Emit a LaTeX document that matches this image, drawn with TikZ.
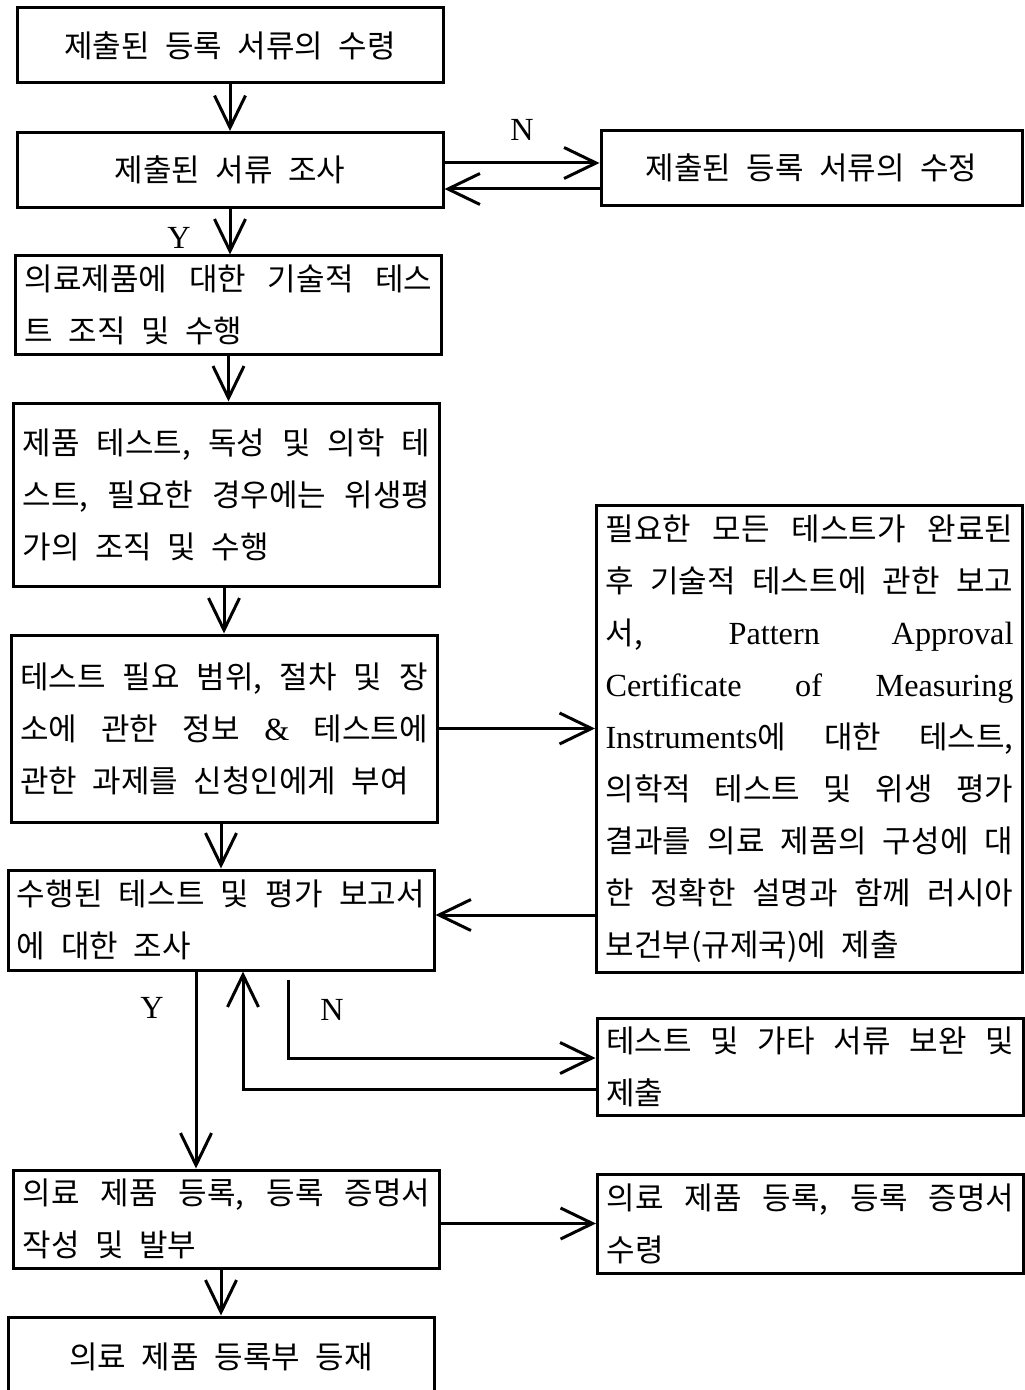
\documentclass[tikz,border=0pt]{standalone}
\usepackage{fontspec}
\setmainfont{Noto Sans CJK KR}
\newfontfamily\engfont[Scale=1.04]{Liberation Serif}
\usepackage{tikz}
\usetikzlibrary{arrows.meta}
\newcommand\bodyfont{\fontsize{15.5pt}{26pt}\selectfont\spaceskip=.5em plus 4em minus .1em\relax}
\tolerance=10000
\hbadness=10000
\tikzset{
  box/.style={draw, line width=1.5pt, inner sep=0pt, font=\bodyfont},
  cbox/.style={box, minimum width=213pt, minimum height=37.5pt, align=center},
  jbox/.style={box, text width=204pt, inner xsep=4.5pt, align=justify},
  arr/.style={-{Straight Barb[length=16pt,width=15.5pt]}, line width=1.5pt},
  yn/.style={font=\engfont\fontsize{15.5pt}{16pt}\selectfont, inner sep=0pt}
}
\begin{document}
\begin{tikzpicture}[x=0.5pt,y=-0.5pt]
\useasboundingbox (0,0) rectangle (1024,1390);
\node[cbox] (recv) at (230,45.5) {제출된 등록 서류의 수령};
\node[cbox] (check) at (230,170) {제출된 서류 조사};
\node[cbox, minimum width=210.5pt] (fix) at (811.5,168) {제출된 등록 서류의 수정};
\node[jbox, minimum height=49pt] (techtest) at (228.5,305) {의료제품에 대한 기술적 테스\linebreak 트 조직 및 수행};
\node[jbox, minimum height=91.5pt] (prodtest) at (226.5,494.5) {제품 테스트, 독성 및 의학 테\linebreak 스트, 필요한 경우에는 위생평\linebreak 가의 조직 및 수행};
\node[jbox, minimum height=93.5pt] (scope) at (224,728.5) {테스트 필요 범위, 절차 및 장\linebreak 소에 관한 정보 {\engfont\&} 테스트에\linebreak 관한 과제를 신청인에게 부여};
\node[jbox, minimum height=233.5pt] (report) at (809.5,738.5) {필요한 모든 테스트가 완료된\linebreak 후 기술적 테스트에 관한 보고\linebreak 서, {\engfont Pattern Approval}\linebreak {\engfont Certificate of Measuring}\linebreak {\engfont Instruments}에 대한 테스트,\linebreak 의학적 테스트 및 위생 평가\linebreak 결과를 의료 제품의 구성에 대\linebreak 한 정확한 설명과 함께 러시아\linebreak 보건부(규제국)에 제출};
\node[jbox, minimum height=50pt] (review) at (221,920) {수행된 테스트 및 평가 보고서\linebreak 에 대한 조사};
\node[jbox, minimum height=48.5pt] (suppl) at (810,1066.5) {테스트 및 가타 서류 보완 및\linebreak 제출};
\node[jbox, minimum height=49pt] (regist) at (226.5,1219) {의료 제품 등록, 등록 증명서\linebreak 작성 및 발부};
\node[jbox, minimum height=49.5pt] (receive) at (810.5,1223.5) {의료 제품 등록, 등록 증명서\linebreak 수령};
\node[cbox, minimum height=40pt] (entry) at (221,1357) {의료 제품 등록부 등재};
\node[yn] (nlab1) at (522,130) {N};
\node[yn] (ylab1) at (179,238) {Y};
\node[yn] (ylab2) at (152,1008) {Y};
\node[yn] (nlab2) at (332,1010) {N};
\coordinate (nstart) at ([xshift=33.5pt,yshift=-4pt]review.south);
\draw[arr] (recv) -- (check);
\draw[arr] ([yshift=3.5pt]check.east) -- ([yshift=3.5pt]check.east -| fix.west);
\draw[arr] ([yshift=-9.5pt]check.east -| fix.west) -- ([yshift=-9.5pt]check.east);
\draw[arr] (check.south) -- (check.south |- techtest.north);
\draw[arr] (techtest.south) -- (techtest.south |- prodtest.north);
\draw[arr] (scope.north |- prodtest.south) -- (scope.north);
\draw[arr] (scope.east) -- (scope.east -| report.west);
\draw[arr] ([yshift=2.5pt]review.east -| report.west) -- ([yshift=2.5pt]review.east);
\draw[arr] (review.north |- scope.south) -- (review.north);
\draw[arr] ([xshift=-12.5pt]review.south) -- ([xshift=-12.5pt]review.south |- regist.north);
\draw[arr] (nstart) |- ([yshift=4.25pt]suppl.west);
\draw[arr] ([yshift=-11.25pt]suppl.west) -| ([xshift=11pt]review.south);
\draw[arr] (receive.west -| regist.east) -- (receive.west);
\draw[arr] (entry.north |- regist.south) -- (entry.north);
\end{tikzpicture}
\end{document}
